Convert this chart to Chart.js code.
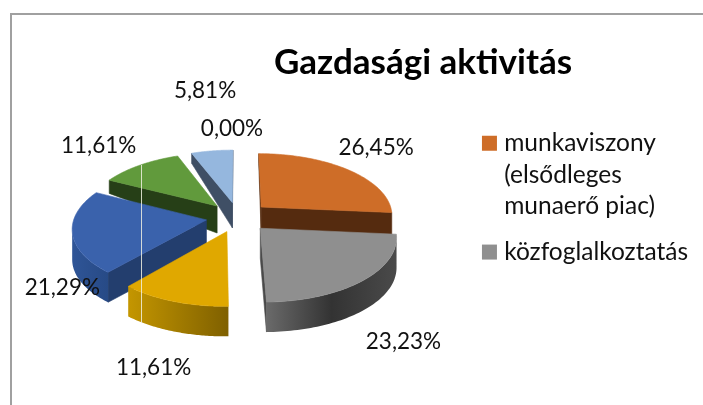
<!DOCTYPE html>
<html lang="hu">
<head>
<meta charset="utf-8">
<script src="https://cdn.jsdelivr.net/npm/chart.js@4"></script>
<style>html,body{margin:0;background:#fff}canvas{display:block}</style>
</head>
<body>
<canvas id="c" width="703" height="405"></canvas>
<script>
const categories = [["munkaviszony","(elsődleges","munaerő piac)"],"közfoglalkoztatás","egyéb 1","egyéb 2","egyéb 3","egyéb 4","egyéb 5"];
const shares = [26.45,23.23,11.61,21.29,11.61,5.81,0.00];
const topColors = ["#CE6D28","#8F8F8F","#E0A800","#3A62AC","#619A3C","#95B7DE","#264478"];
const sideColors = ["#552B0F","#4A4A4A","#A07A00","#233E6E","#263F17","#3F4F65","#1A2E50"];
const wallStops = [["#552B0F","#552B0F"],["#6A6A6A","#333333","#4A4A4A"],["#C49600","#7F6000"],["#2F5597","#274A86"],["#263F17","#263F17"],["#3F4F65","#3F4F65"],["#1A2E50","#1A2E50"]];
const labelNudge = [[28,-22],[40,61],[-20,66],[-10,56],[-41,-20],[-7,-60],[-6,-21]];
const FONT = "Lato, Carlito, Calibri, sans-serif";

const view = {cx:238, cy:217, explode:32, tilt:0.47, persp:0.12};

function project(a, r, e, mid, R){
  const px = Math.cos(a)*r + Math.cos(mid)*e;
  const py = Math.sin(a)*r + Math.sin(mid)*e;
  const yn = py/R;
  const s = 1/(1 - view.persp*yn);
  const h = Math.max(10, Math.min(30, 27 + (yn+0.18)*30));
  return {x: view.cx + px*s, y: view.cy + view.tilt*py*s, h, yn};
}
function poly(ctx, pts){
  ctx.beginPath();
  pts.forEach((p,i)=> i ? ctx.lineTo(p.x,p.y) : ctx.moveTo(p.x,p.y));
  ctx.closePath();
}
function fillPoly(ctx, pts, fill, edge){
  poly(ctx, pts);
  ctx.fillStyle = fill;
  ctx.fill();
  if(edge){ ctx.strokeStyle = fill; ctx.lineWidth = 0.6; ctx.stroke(); }
}
function lower(pts){ return pts.slice().reverse().map(p=>({x:p.x,y:p.y+p.h})); }
function wallRun(ctx, pts, fill, edge){ fillPoly(ctx, pts.concat(lower(pts)), fill, edge); }
function visibleRuns(pts){
  const runs=[]; let cur=null;
  for(let k=0;k<pts.length-1;k++){
    if(pts[k+1].x-pts[k].x < -0.001){
      if(!cur){cur=[pts[k]];runs.push(cur);}
      cur.push(pts[k+1]);
    } else cur=null;
  }
  return runs;
}

const pie3d = {
  id:"pie3d",
  beforeDatasetsDraw(chart){
    const ctx = chart.ctx;
    const arcs = chart.getDatasetMeta(0).data;
    const list = arcs.map((arc,i)=>{
      const {startAngle:a0,endAngle:a1,outerRadius:R} = arc.getProps(["startAngle","endAngle","outerRadius"],true);
      const mid = (a0+a1)/2;
      const apex = project(0,0,view.explode,mid,R);
      const rim = [];
      const n = 64;
      for(let k=0;k<=n;k++) rim.push(project(a0+(a1-a0)*k/n,R,view.explode,mid,R));
      return {i,mid,R,apex,rim,sort:Math.sin(mid)};
    }).filter(o=>shares[o.i]>0);

    // frame
    ctx.save();
    ctx.strokeStyle="#A0A0A0"; ctx.lineWidth=2;
    ctx.beginPath(); ctx.moveTo(11,405); ctx.lineTo(11,14); ctx.lineTo(703,14); ctx.stroke();

    list.sort((a,b)=>a.sort-b.sort).forEach(o=>{
      const {i,apex,rim} = o;
      const xs = rim.map(p=>p.x);
      const g = ctx.createLinearGradient(Math.min(...xs),0,Math.max(...xs),0);
      wallStops[i].forEach((c,k,all)=>g.addColorStop(k/(all.length-1),c));
      visibleRuns([apex,rim[0]]).forEach(r=>wallRun(ctx,r,sideColors[i],true));
      visibleRuns([rim[rim.length-1],apex]).forEach(r=>wallRun(ctx,r,sideColors[i],true));
      visibleRuns(rim).forEach(r=>wallRun(ctx,r,g,false));
      fillPoly(ctx,[apex,...rim],topColors[i],true);
    });

    // thin pale seam crossing the plot
    ctx.strokeStyle="rgba(240,240,225,0.85)"; ctx.lineWidth=1;
    ctx.beginPath(); ctx.moveTo(141.5,165); ctx.lineTo(141.5,323); ctx.stroke();

    // value labels
    ctx.fillStyle="#111"; ctx.font="22.5px "+FONT; ctx.textAlign="center"; ctx.textBaseline="middle";
    arcs.forEach((arc,i)=>{
      const {startAngle:a0,endAngle:a1,outerRadius:R} = arc.getProps(["startAngle","endAngle","outerRadius"],true);
      const mid=(a0+a1)/2;
      const p=project(mid,R,view.explode,mid,R);
      ctx.fillText(shares[i].toFixed(2).replace(".",",")+"%",p.x+labelNudge[i][0],p.y+labelNudge[i][1]);
    });
    ctx.restore();
    return false;
  }
};

new Chart(document.getElementById("c"),{
  type:"pie",
  data:{labels:categories,datasets:[{data:shares,backgroundColor:topColors,borderWidth:0}]},
  plugins:[pie3d],
  options:{
    responsive:false,animation:false,radius:132,
    layout:{padding:{left:148,right:5,top:42,bottom:0}},
    plugins:{
      tooltip:{enabled:false},
      title:{display:true,text:"Gazdasági aktivitás",color:"#000",font:{family:FONT,size:35,weight:"bold"},padding:{top:0,bottom:33}},
      legend:{position:"right",align:"start",fullSize:false,
        labels:{font:{family:FONT,size:24.5,lineHeight:1.29},color:"#111",usePointStyle:true,pointStyle:"rect",boxWidth:5,boxHeight:15,padding:14,
          filter:item=>item.index<2}}
    }
  }
});
</script>
</body>
</html>
